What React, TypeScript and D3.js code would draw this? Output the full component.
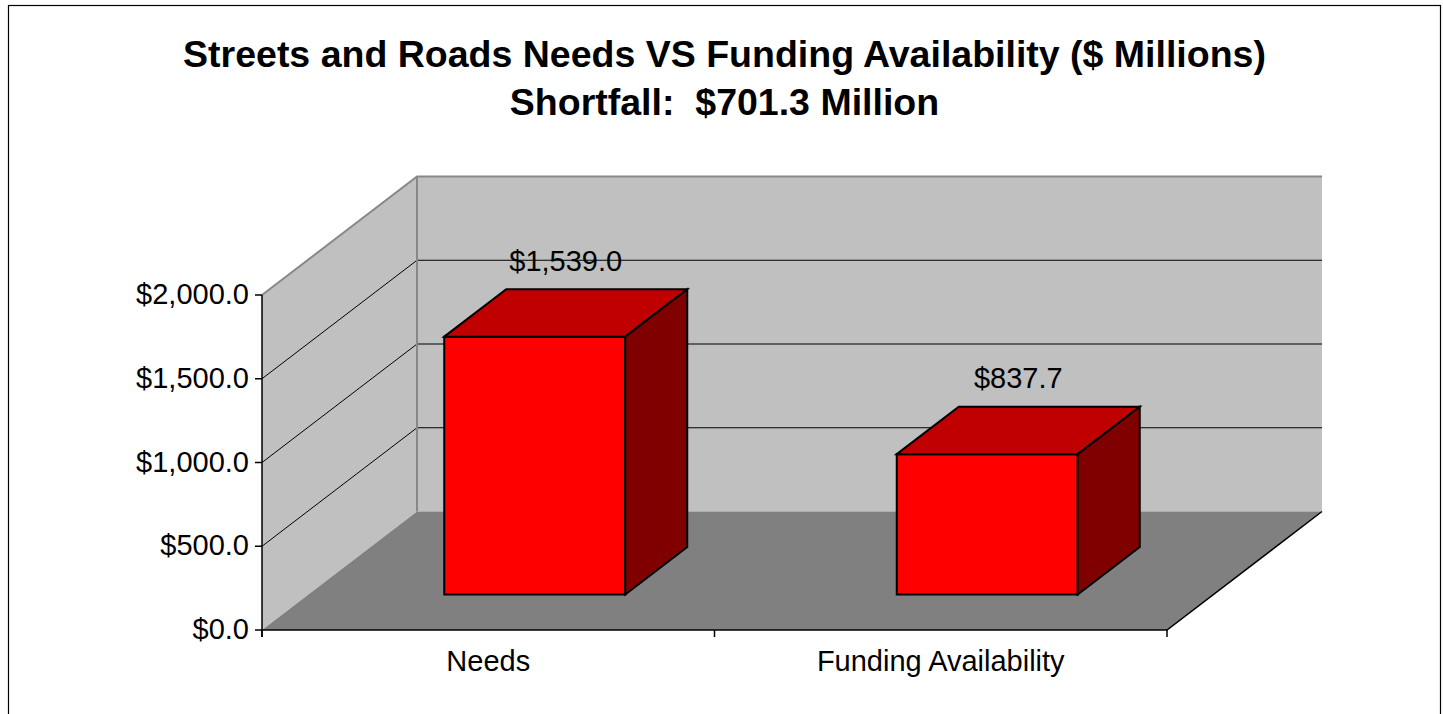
import React from "react";
import * as d3 from "d3";

const titleLines = ["Streets and Roads Needs VS Funding Availability ($ Millions)", "Shortfall:  $701.3 Million"];
const categories = ["Needs", "Funding Availability"];
const values = [1539.0, 837.7];
const yTicks = [0, 500, 1000, 1500, 2000];

const W = 1443;
const H = 714;
const DX = 155;
const DY = -118.5;
const FONT = "'Liberation Sans', Arial, Helvetica, sans-serif";

const fmt = (v: number) => "$" + d3.format(",.1f")(v);

export default function App() {
  const y = d3.scaleLinear().domain([0, 2000]).range([630, 295]);
  const x = d3.scaleBand<string>().domain(categories).range([262, 1167]).paddingInner(0.6).paddingOuter(0.3);
  const x0 = 262;
  const x1 = 1167;
  const y0 = y(0);
  const yTop = y(2000);
  const P = (xf: number, yf: number, z: number): [number, number] => [xf + z * DX, yf + z * DY];
  const poly = (pts: [number, number][]) => pts.map((p) => p.join(",")).join(" ");
  const line = d3.line();

  const zf = 0.3;
  const zb = 0.7;

  return (
    <svg width={W} height={H} style={{ position: "absolute", left: 0, top: 0 }} xmlns="http://www.w3.org/2000/svg">
      <rect x={0} y={0} width={W} height={H} fill="#fff" />
      <rect x={8.5} y={5.5} width={1432} height={730} fill="#fff" stroke="#000" strokeWidth={1.2} />
      {titleLines.map((t, i) => (
        <text key={i} x={724.5} y={67 + i * 48} textAnchor="middle" fontFamily={FONT} fontWeight="bold" fontSize={37.5} style={{ whiteSpace: "pre" }}>
          {t}
        </text>
      ))}
      {/* side wall */}
      <polygon points={poly([P(x0, yTop, 0), P(x0, yTop, 1), P(x0, y0, 1), P(x0, y0, 0)])} fill="#c0c0c0" />
      {/* back wall */}
      <polygon points={poly([P(x0, yTop, 1), P(x1, yTop, 1), P(x1, y0, 1), P(x0, y0, 1)])} fill="#c0c0c0" />
      {/* floor */}
      <polygon points={poly([P(x0, y0, 0), P(x1, y0, 0), P(x1, y0, 1), P(x0, y0, 1)])} fill="#808080" />
      {/* gridlines */}
      {yTicks.filter((t) => t > 0 && t < 2000).map((t) => (
        <g key={t}>
          <path d={line([P(x0, y(t), 0), P(x0, y(t), 1)]) || ""} stroke="#000" strokeWidth={1} fill="none" />
          <path d={line([P(x0, y(t), 1), P(x1, y(t), 1)]) || ""} stroke="#000" strokeWidth={1} fill="none" />
        </g>
      ))}
      {/* wall edges */}
      <path d={line([P(x0, yTop, 0), P(x0, yTop, 1), P(x1, yTop, 1)]) || ""} stroke="#888" strokeWidth={2} fill="none" />
      <path d={line([P(x0, yTop, 1), P(x0, y0, 1)]) || ""} stroke="#888" strokeWidth={2} fill="none" />
      {/* floor edges */}
      <path d={line([P(x0, y0, 0), P(x1, y0, 0), P(x1, y0, 1)]) || ""} stroke="#000" strokeWidth={1.5} fill="none" />
      {/* bars */}
      {categories.map((c, i) => {
        const bx0 = x(c)!;
        const bx1 = bx0 + x.bandwidth();
        const by = y(values[i]);
        const front = [P(bx0, by, zf), P(bx1, by, zf), P(bx1, y0, zf), P(bx0, y0, zf)] as [number, number][];
        const top = [P(bx0, by, zf), P(bx0, by, zb), P(bx1, by, zb), P(bx1, by, zf)] as [number, number][];
        const side = [P(bx1, by, zf), P(bx1, by, zb), P(bx1, y0, zb), P(bx1, y0, zf)] as [number, number][];
        const lc = P((bx0 + bx1) / 2, by, 0.5);
        return (
          <g key={c} stroke="#000" strokeWidth={2} strokeLinejoin="miter">
            <polygon points={poly(front)} fill="#ff0000" />
            <polygon points={poly(top)} fill="#c00000" />
            <polygon points={poly(side)} fill="#800000" />
            <text x={lc[0]} y={lc[1] - 42} textAnchor="middle" fontFamily={FONT} fontSize={29} fill="#000" stroke="none">
              {fmt(values[i])}
            </text>
          </g>
        );
      })}
      {/* y axis */}
      <path d={`M${x0},${yTop}V${y0 + 7}`} stroke="#000" strokeWidth={1.5} fill="none" />
      {yTicks.map((t) => (
        <g key={t}>
          <path d={`M${x0 - 7},${y(t)}H${x0}`} stroke="#000" strokeWidth={1.5} />
          <text x={249} y={y(t) + 9} textAnchor="end" fontFamily={FONT} fontSize={29} fill="#000">
            {fmt(t)}
          </text>
        </g>
      ))}
      {/* x axis ticks */}
      {[x0, (x0 + x1) / 2, x1].map((tx, i) => (
        <path key={i} d={`M${tx},${y0}V${y0 + 7}`} stroke="#000" strokeWidth={1.5} />
      ))}
      {categories.map((c) => (
        <text key={c} x={x(c)! + x.bandwidth() / 2} y={671} textAnchor="middle" fontFamily={FONT} fontSize={29} fill="#000">
          {c}
        </text>
      ))}
    </svg>
  );
}
